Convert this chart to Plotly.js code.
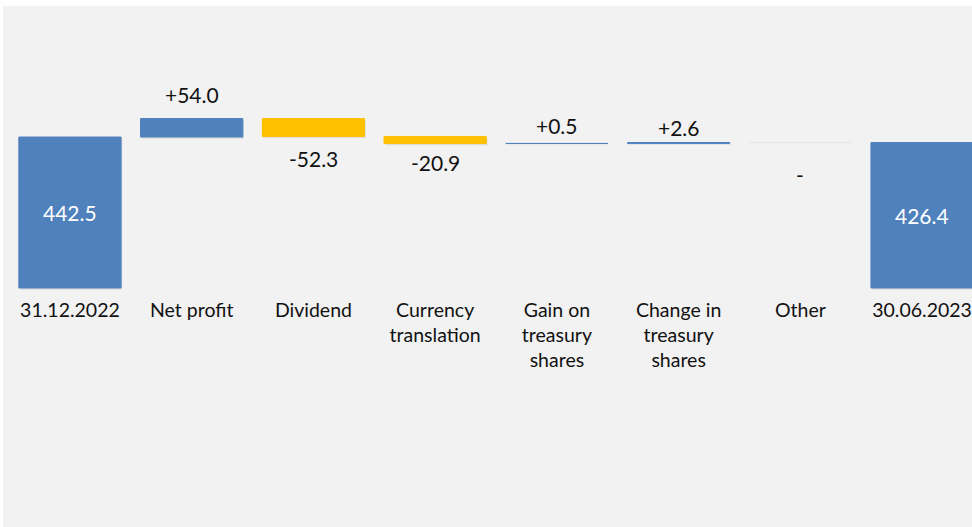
<!DOCTYPE html>
<html>
<head>
<meta charset="utf-8">
<script src="https://cdn.plot.ly/plotly-3.0.1.min.js"></script>
<style>html,body{margin:0;padding:0;background:#fff;}#chart{width:972px;height:527px;}</style>
</head>
<body>
<div id="chart"></div>
<script>
// ---- data ----
const categories = ['31.12.2022', 'Net profit', 'Dividend', 'Currency<br>translation',
  'Gain on<br>treasury<br>shares', 'Change in<br>treasury<br>shares', 'Other', '30.06.2023'];
const values = [442.5, 54.0, -52.3, -20.9, 0.5, 2.6, 0, 426.4];
const measures = ['absolute', 'relative', 'relative', 'relative', 'relative', 'relative', 'relative', 'total'];
const valueLabels = ['442.5', '+54.0', '-52.3', '-20.9', '+0.5', '+2.6', '-', '426.4'];

// ---- style ----
const BLUE = '#4F81BD', GOLD = '#FFC000';
const labelShift = [0, 24.5, 22.5, 19, 17.5, 15.5, 31.5, 0]; // px offset of outside labels
const FONT = 'Lato, "Open Sans", sans-serif';

// waterfall geometry from data
const bases = [], heights = [], fills = [], lines = [];
let running = 0;
values.forEach((v, i) => {
  const m = measures[i];
  if (m === 'absolute') { bases.push(0); heights.push(v); running = v; }
  else if (m === 'total') { bases.push(0); heights.push(v); running = v; }
  else { bases.push(running); heights.push(v); running += v; }
  if (m !== 'relative' || v > 0) { fills.push(BLUE); lines.push(BLUE); }
  else if (v < 0) { fills.push(GOLD); lines.push(GOLD); }
  else { fills.push('rgba(0,0,0,0)'); lines.push('#E4E4E4'); }
});

const shadow = {
  type: 'bar', x: categories, y: heights, base: bases.map(b => b - 5),
  width: 0.84, offset: -0.41,
  marker: {color: 'rgba(0,0,0,0.08)', line: {width: 0}},
  hoverinfo: 'skip', showlegend: false
};
const bars = {
  type: 'bar', x: categories, y: heights, base: bases,
  width: 0.84,
  marker: {color: fills, line: {color: lines, width: 1}},
  hoverinfo: 'skip', showlegend: false
};

const annotations = values.map((v, i) => {
  const m = measures[i];
  if (m !== 'relative') {
    return {x: categories[i], y: bases[i] + heights[i] / 2, text: valueLabels[i], showarrow: false,
      xanchor: 'center', yanchor: 'middle', font: {family: FONT, size: 21, color: '#ffffff'}};
  }
  const top = Math.max(bases[i], bases[i] + v), bot = Math.min(bases[i], bases[i] + v);
  const up = v > 0;
  return {x: categories[i], y: up ? top : bot, yshift: up ? labelShift[i] : -labelShift[i],
    text: valueLabels[i], showarrow: false, xanchor: 'center', yanchor: 'middle',
    font: {family: FONT, size: 21, color: '#111111'}};
});

const layout = {
  width: 972, height: 527,
  margin: {l: 3, r: 0, t: 6, b: 0, pad: 0},
  paper_bgcolor: '#ffffff', plot_bgcolor: '#F2F2F2',
  barmode: 'overlay',
  font: {family: FONT, color: '#111111'},
  xaxis: {type: 'category', range: [-0.55, 7.41], anchor: 'free', position: 0.4587,
    showgrid: false, zeroline: false, showline: false, ticks: '', ticklabelstandoff: 8,
    tickfont: {family: FONT, size: 19.5, color: '#111111'}, fixedrange: true},
  yaxis: {range: [-700.5, 826.5], visible: false, showgrid: false, zeroline: false, fixedrange: true},
  annotations: annotations,
  showlegend: false
};

Plotly.newPlot('chart', [shadow, bars], layout, {displayModeBar: false, staticPlot: true});
</script>
</body>
</html>
